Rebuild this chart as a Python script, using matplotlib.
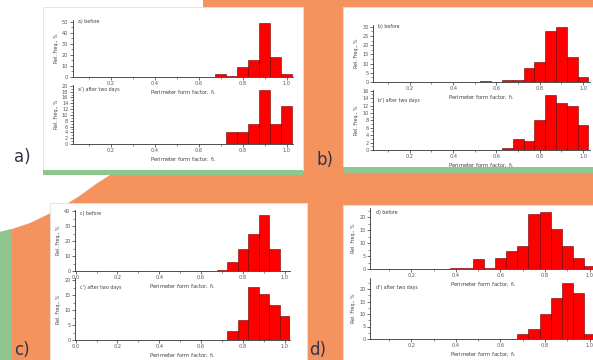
import matplotlib.pyplot as plt
from matplotlib.patches import Rectangle, Polygon
from matplotlib.ticker import MultipleLocator

W, H = 593, 360

# bin centres (bin width 0.05) and relative frequencies in %
a_x = [0.70, 0.75, 0.80, 0.85, 0.90, 0.95, 1.00]
a_before = [2.4, 1.0, 9.0, 15.0, 49.0, 17.5, 2.0]
a2_x = [0.75, 0.80, 0.85, 0.90, 0.95, 1.00]
a_after = [4.3, 4.3, 7.0, 18.6, 7.0, 13.0]

b_x = [0.55, 0.65, 0.70, 0.75, 0.80, 0.85, 0.90, 0.95, 1.00]
b_before = [0.4, 1.3, 1.3, 7.6, 10.9, 28.0, 30.0, 13.6, 2.7]
b2_x = [0.65, 0.70, 0.75, 0.80, 0.85, 0.90, 0.95, 1.00]
b_after = [0.5, 2.9, 2.3, 8.1, 14.9, 12.8, 11.9, 6.8]

c_x = [0.70, 0.75, 0.80, 0.85, 0.90, 0.95]
c_before = [0.5, 6.1, 14.5, 24.8, 37.5, 14.5]
c2_x = [0.75, 0.80, 0.85, 0.90, 0.95, 1.00]
c_after = [3.1, 6.6, 17.7, 15.3, 11.8, 8.2]

d_x = [0.40, 0.45, 0.50, 0.55, 0.60, 0.65, 0.70, 0.75, 0.80, 0.85, 0.90, 0.95, 1.00]
d_before = [0.4, 0.4, 3.7, 0.3, 4.2, 6.8, 8.7, 21.2, 21.9, 15.6, 8.7, 4.2, 1.2]
d2_x = [0.70, 0.75, 0.80, 0.85, 0.90, 0.95, 1.00]
d_after = [2.1, 4.0, 10.1, 16.4, 22.4, 18.4, 2.1]

ORANGE = '#f5935f'
GREEN = '#8fc690'
XLAB = r'Perimeter form factor, f$_\mathregular{L}$'

fig = plt.figure(figsize=(W / 100, H / 100), dpi=100)

# slide background, drawn in pixel coordinates
bg = fig.add_axes([0, 0, 1, 1])
bg.set_xlim(0, W)
bg.set_ylim(H, 0)
bg.axis('off')
bg.add_patch(Rectangle((0, 0), W, H, color=ORANGE, lw=0))
bg.add_patch(Polygon([(0, 0), (203, 0), (203, 175), (110, 175), (96, 184), (78, 197),
                      (55, 211), (30, 223), (12, 229), (0, 232)], closed=True,
                     color='white', lw=0))
bg.add_patch(Polygon([(0, 232), (12, 229), (12, 360), (0, 360)], closed=True,
                     color=GREEN, lw=0))


def panel_box(l, t, r, b, green=None):
    bg.add_patch(Rectangle((l, t), r - l, b - t, facecolor='white',
                           edgecolor='#e2e2e2', lw=0.6))
    if green:
        bg.add_patch(Rectangle((l, b), r - l, green, color=GREEN, lw=0))


panel_box(43, 7, 303, 170, green=5)
panel_box(343, 7, 593, 167, green=6)
panel_box(50, 203, 307, 362)
panel_box(343, 205, 595, 362)

for s, x, y in [('a)', 22, 157), ('b)', 325, 160), ('c)', 22, 350), ('d)', 318, 350)]:
    bg.text(x, y, s, fontsize=12, color='#33334a', ha='center', va='center')


def hist_ax(l, t, r, b, xs, ys, xlim, ylim, ymaj, ymin, note, note_y):
    ax = fig.add_axes([l / W, 1 - b / H, (r - l) / W, (b - t) / H])
    ax.patch.set_alpha(0)
    ax.bar(xs, ys, width=0.05, color='#ff0000', edgecolor='#6a0000', linewidth=0.4)
    ax.set_xlim(*xlim)
    ax.set_ylim(*ylim)
    for s in ['top', 'right']:
        ax.spines[s].set_visible(False)
    for s in ['left', 'bottom']:
        ax.spines[s].set_linewidth(0.6)
        ax.spines[s].set_color('#333333')
    ax.xaxis.set_major_locator(MultipleLocator(0.2))
    ax.xaxis.set_minor_locator(MultipleLocator(0.1))
    ax.yaxis.set_major_locator(MultipleLocator(ymaj))
    ax.yaxis.set_minor_locator(MultipleLocator(ymin))
    ax.tick_params(which='major', length=2, width=0.5, pad=1.2, labelsize=3.6,
                   colors='#333333', labelcolor='#555555')
    ax.tick_params(which='minor', length=1.2, width=0.4, colors='#333333')
    ax.set_xlabel(XLAB, fontsize=3.8, color='#444444', labelpad=1.5)
    ax.set_ylabel('Rel. Freq., %', fontsize=3.4, color='#444444', labelpad=2)
    ax.text(0.025, note_y, note, transform=ax.transAxes, fontsize=3.4,
            color='#444444', va='center')
    return ax


# panel a
hist_ax(72.7, 20, 292.7, 76.7, a_x, a_before, (0.025, 1.027), (0, 51.5), 10, 5,
        'a) before', 0.965)
hist_ax(72.7, 85, 292.7, 144, a2_x, a_after, (0.025, 1.027), (0, 20.3), 2, 1,
        "a') after two days", 0.93)

# panel b
hist_ax(373, 25, 590, 82, b_x, b_before, (0.03, 1.032), (0, 31), 5, 2.5,
        'b) before', 0.97)
hist_ax(373, 90, 590, 150, b2_x, b_after, (0.03, 1.032), (0, 16.2), 2, 1,
        "b') after two days", 0.83)

# panel c
hist_ax(75, 210, 290, 271, c_x, c_before, (-0.003, 1.025), (0, 41), 10, 5,
        'c) before', 0.95)
hist_ax(75, 278, 290, 340, c2_x, c_after, (-0.003, 1.025), (0, 20.8), 5, 2.5,
        "c') after two days", 0.84)

# panel d
hist_ax(370, 208, 596.4, 269, d_x, d_before, (0.015, 1.03), (0, 23.5), 5, 2.5,
        'd) before', 0.93)
hist_ax(370, 278, 596.4, 339, d2_x, d_after, (0.015, 1.03), (0, 24.4), 5, 2.5,
        "d') after two days", 0.84)

fig.savefig('out.png', dpi=100)
